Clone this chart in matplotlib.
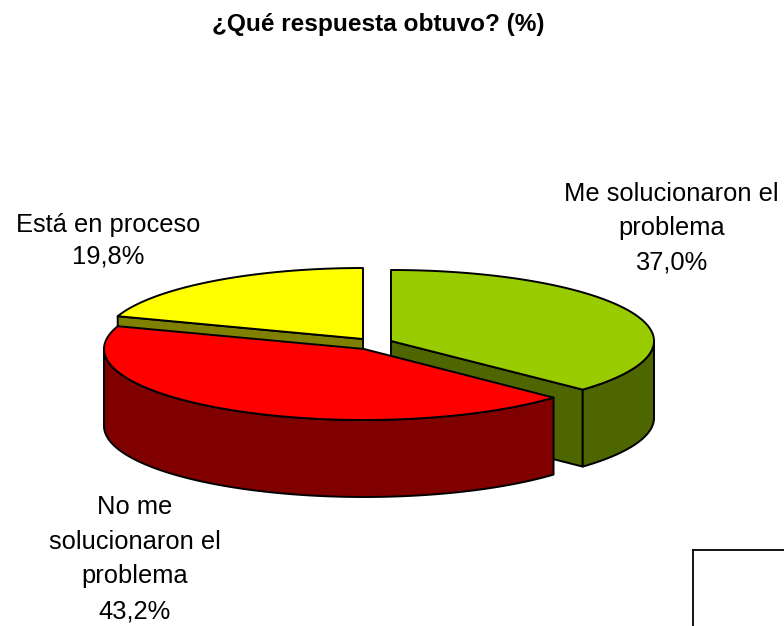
import numpy as np
import matplotlib
matplotlib.use("Agg")
import matplotlib.pyplot as plt
from matplotlib.patches import Polygon

title = "¿Qué respuesta obtuvo? (%)"
categories = ["Me solucionaron el\nproblema", "No me\nsolucionaron el\nproblema", "Está en proceso"]
values = [37.0, 43.2, 19.8]

top_colors = ["#99CC00", "#FF0000", "#FFFF00"]
side_colors = ["#4D6600", "#800000", "#808000"]
centres = [(391, 341), (364, 349), (363, 339)]
radii_x = [263, 260, 259]
RY = 71
DEPTH = 77
LW = 1.4
label_pos = [(671.5, 228), (135, 559), (108.5, 240.5)]
line_spacing = [1.53, 1.57, 1.4]

plt.rcParams["font.family"] = ["Liberation Sans", "DejaVu Sans"]
fig = plt.figure(figsize=(7.84, 6.26), dpi=100)
ax = fig.add_axes([0, 0, 1, 1])
ax.set_xlim(0, 784)
ax.set_ylim(626, 0)
ax.axis("off")


def point(i, theta, dy=0.0):
    cx, cy = centres[i]
    return np.column_stack([cx + radii_x[i] * np.sin(theta), cy - RY * np.cos(theta) + dy])


def add(xy, color, z):
    ax.add_patch(Polygon(xy, closed=True, facecolor=color, edgecolor="black",
                         linewidth=LW, joinstyle="round", zorder=z))


edges = np.radians(np.concatenate([[0], np.cumsum(values)]) * 3.6)
draw_order = [2, 0, 1]
for z, i in enumerate(draw_order):
    a0, a1 = edges[i], edges[i + 1]
    base = 10 * (z + 1)
    tip = np.array(centres[i], dtype=float)
    # the cut face turned towards the viewer
    if i != 1:
        a = a1 if i == 0 else a0
        add(np.array([tip, point(i, a)[0], point(i, a, DEPTH)[0], tip + [0, DEPTH]]),
            side_colors[i], base)
    # outer rim on the front half of the ellipse
    r0, r1 = max(a0, np.pi / 2), min(a1, 3 * np.pi / 2)
    if r1 > r0:
        t = np.linspace(r0, r1, 160)
        add(np.vstack([point(i, t), point(i, t[::-1], DEPTH)]), side_colors[i], base + 1)
    # top face
    t = np.linspace(a0, a1, 240)
    add(np.vstack([tip[None, :], point(i, t)]), top_colors[i], base + 2)

for name, v, (x, y), ls in zip(categories, values, label_pos, line_spacing):
    ax.text(x, y, f"{name}\n{v:.1f}%".replace(".", ","), ha="center", va="center",
            fontsize=18.4, linespacing=ls, color="black")

ax.text(378.5, 24, title, ha="center", va="center", fontsize=17.6, fontweight="bold", color="black")

box_x, box_y = 693, 550
ax.plot([box_x, box_x], [626, box_y], color="black", lw=1.3, solid_capstyle="projecting")
ax.plot([box_x, 784], [box_y, box_y], color="black", lw=1.3, solid_capstyle="projecting")

fig.savefig("out.png", dpi=100, facecolor="white")
